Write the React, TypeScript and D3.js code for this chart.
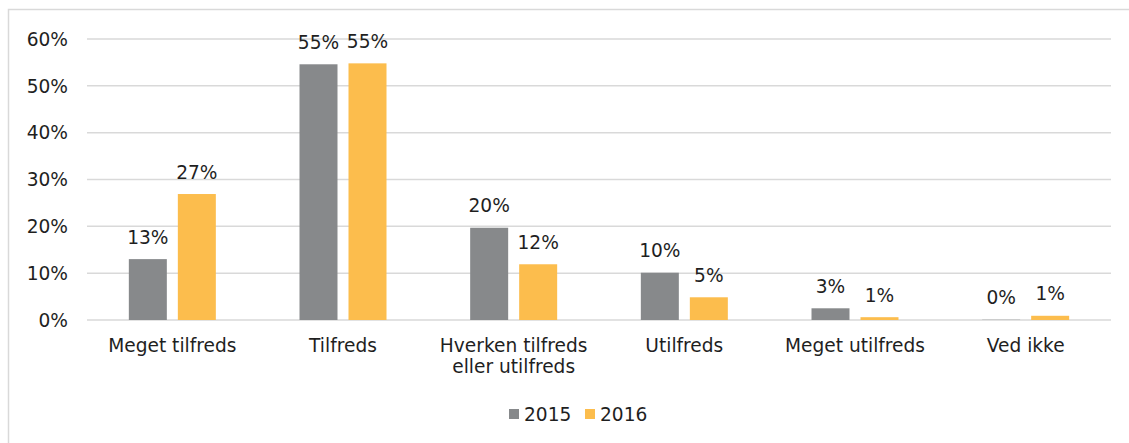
import React from 'react';
import * as d3 from 'd3';

const categories = [
  ['Meget tilfreds'],
  ['Tilfreds'],
  ['Hverken tilfreds', 'eller utilfreds'],
  ['Utilfreds'],
  ['Meget utilfreds'],
  ['Ved ikke'],
];
const values2015 = [13.0, 54.6, 19.7, 10.1, 2.5, 0.05];
const values2016 = [26.9, 54.8, 11.9, 4.85, 0.6, 0.9];
const labels2015 = ['13%', '55%', '20%', '10%', '3%', '0%'];
const labels2016 = ['27%', '55%', '12%', '5%', '1%', '1%'];
const yTicks = [0, 10, 20, 30, 40, 50, 60];
const seriesNames = ['2015', '2016'];

const GRAY = '#87898b';
const ORANGE = '#fcbd4d';
const GRID = '#d9d9d9';
const TEXT = '#1f1f1f';
const FONT = 'Verdana, "DejaVu Sans", sans-serif';
const FS = 18.6;

const App: React.FC = () => {
  const width = 1129;
  const height = 443;
  const plot = { left: 87, right: 1111, top: 39, bottom: 320 };

  const x = d3.scaleBand<number>()
    .domain(d3.range(categories.length))
    .range([plot.left, plot.right]);

  const y = d3.scaleLinear()
    .domain([0, 60])
    .range([plot.bottom, plot.top]);

  const barW = 38;
  const gap = 11;
  const series = [
    { name: seriesNames[0], values: values2015, labels: labels2015, color: GRAY },
    { name: seriesNames[1], values: values2016, labels: labels2016, color: ORANGE },
  ];

  const center = (i: number) => (x(i) || 0) + x.bandwidth() / 2;
  const barX = (i: number, s: number) =>
    s === 0 ? center(i) - gap / 2 - barW : center(i) + gap / 2;

  return (
    <svg
      width={width}
      height={height}
      style={{ position: 'absolute', left: 0, top: 0, fontFamily: FONT }}
    >
      <rect x={0} y={0} width={width} height={height} fill="#fff" />
      {/* outer frame, runs past the right and bottom edges */}
      <rect x={8.5} y={9.5} width={1300} height={600} fill="none" stroke={GRID} strokeWidth={1.5} />

      {/* grid + y labels */}
      {yTicks.map(t => (
        <g key={t}>
          <line x1={plot.left} x2={plot.right} y1={y(t)} y2={y(t)} stroke={GRID} strokeWidth={1.5} />
          <text x={68} y={y(t)} dy="0.36em" textAnchor="end" fontSize={FS} fill={TEXT}>
            {t}%
          </text>
        </g>
      ))}

      {/* bars with value labels */}
      {series.map((s, si) =>
        s.values.map((v, i) => (
          <g key={`${si}-${i}`}>
            <rect x={barX(i, si)} y={y(v)} width={barW} height={y(0) - y(v)} fill={s.color} />
            <text
              x={barX(i, si) + barW / 2}
              y={y(v) - 15.5}
              textAnchor="middle"
              fontSize={FS}
              fill={TEXT}
            >
              {s.labels[i]}
            </text>
          </g>
        ))
      )}

      {/* category labels */}
      {categories.map((lines, i) => (
        <text key={i} x={center(i)} y={351.5} textAnchor="middle" fontSize={FS} fill={TEXT}>
          {lines.map((l, k) => (
            <tspan key={k} x={center(i)} dy={k === 0 ? 0 : 21.7}>
              {l}
            </tspan>
          ))}
        </text>
      ))}

      {/* legend */}
      {series.map((s, si) => (
        <g key={s.name} transform={`translate(${509 + si * 76},409)`}>
          <rect x={0} y={0} width={10} height={10} fill={s.color} />
          <text x={15} y={11.5} fontSize={FS} fill={TEXT}>{s.name}</text>
        </g>
      ))}
    </svg>
  );
};

export default App;
